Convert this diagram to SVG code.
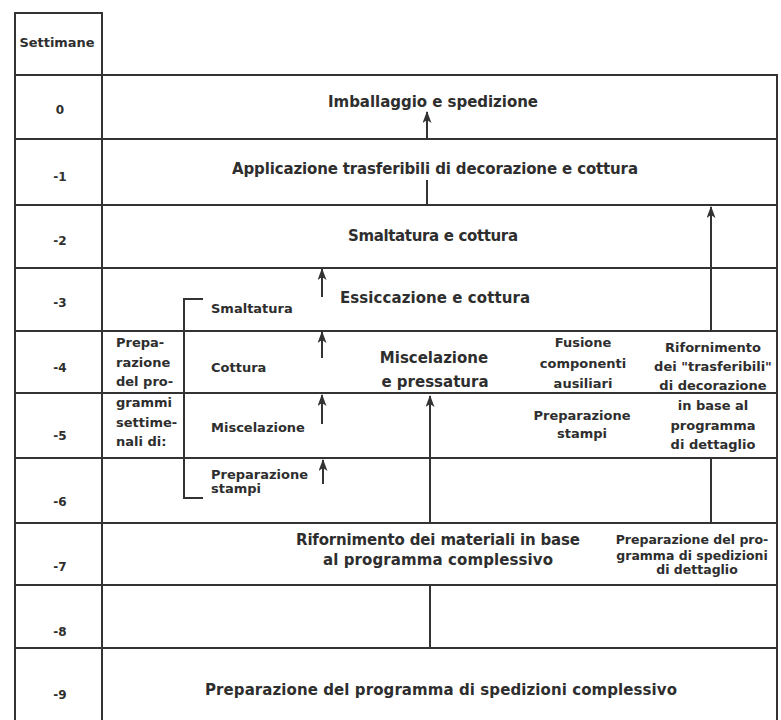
<svg xmlns="http://www.w3.org/2000/svg" width="781" height="720" viewBox="0 0 781 720">
<style>
  .grid line { stroke:#333; stroke-width:2; }
  text { font-family:"DejaVu Sans","Liberation Sans",sans-serif; font-weight:bold; fill:#2e2e2e; }
  .big { font-size:15px; }
  .sm { font-size:13px; }
  .xs { font-size:12.5px; }
  .num { font-size:12px; text-anchor:middle; }
  .c { text-anchor:middle; }
  .conn line { stroke:#333; stroke-width:2; fill:none; }
</style>
<defs>
  <marker id="ah" markerUnits="userSpaceOnUse" viewBox="0 0 12 9" markerWidth="12" markerHeight="9" refX="11" refY="4.5" orient="auto">
    <path d="M0,0 L12,4.5 L0,9 L3,4.5 z" fill="#333"/>
  </marker>
</defs>
<rect width="781" height="720" fill="#fff"/>

<g id="grid" class="grid">
  <line x1="15" y1="13" x2="102" y2="13"/>
  <line x1="15" y1="12" x2="15" y2="720"/>
  <line x1="102" y1="12" x2="102" y2="720"/>
  <line x1="777" y1="74" x2="777" y2="720"/>
  <line x1="15" y1="75" x2="778" y2="75"/>
  <line x1="15" y1="139" x2="778" y2="139"/>
  <line x1="15" y1="205" x2="778" y2="205"/>
  <line x1="15" y1="268" x2="778" y2="268"/>
  <line x1="15" y1="331" x2="778" y2="331"/>
  <line x1="15" y1="393" x2="778" y2="393"/>
  <line x1="15" y1="458" x2="778" y2="458"/>
  <line x1="15" y1="523" x2="778" y2="523"/>
  <line x1="15" y1="585" x2="778" y2="585"/>
  <line x1="15" y1="648" x2="778" y2="648"/>
</g>

<g id="weeks">
  <text x="57" y="47" font-size="12" text-anchor="middle" textLength="75" lengthAdjust="spacingAndGlyphs">Settimane</text>
  <text class="num" x="60" y="114">0</text>
  <text class="num" x="60" y="181">-1</text>
  <text class="num" x="60" y="245">-2</text>
  <text class="num" x="60" y="307">-3</text>
  <text class="num" x="60" y="372">-4</text>
  <text class="num" x="60" y="440">-5</text>
  <text class="num" x="60" y="506">-6</text>
  <text class="num" x="60" y="571">-7</text>
  <text class="num" x="60" y="636">-8</text>
  <text class="num" x="60" y="699">-9</text>
</g>

<g id="imballaggio"><text class="big c" x="433" y="107" textLength="210">Imballaggio e spedizione</text></g>
<g id="applicazione"><text class="big c" x="435" y="174" textLength="406">Applicazione trasferibili di decorazione e cottura</text></g>
<g id="smaltatura-cottura"><text class="big c" x="433" y="241" textLength="170">Smaltatura e cottura</text></g>
<g id="essiccazione"><text class="big" x="340" y="303" textLength="190">Essiccazione e cottura</text></g>

<g id="programmi-settimanali">
  <text class="sm" x="116" y="347">Prepa-</text>
  <text class="sm" x="116" y="367">razione</text>
  <text class="sm" x="116" y="386">del pro-</text>
  <text class="sm" x="116" y="407">grammi</text>
  <text class="sm" x="116" y="427">settime-</text>
  <text class="sm" x="116" y="446">nali di:</text>
</g>

<g id="bracket">
  <path d="M203,299 L184,299 L184,498 L203,498" fill="none" stroke="#333" stroke-width="2"/>
</g>

<g id="w-smaltatura"><text class="sm" x="211" y="313">Smaltatura</text></g>
<g id="w-cottura"><text class="sm" x="211" y="372">Cottura</text></g>
<g id="w-miscelazione"><text class="sm" x="211" y="432">Miscelazione</text></g>
<g id="w-stampi">
  <text class="sm" x="211" y="479">Preparazione</text>
  <text class="sm" x="211" y="493">stampi</text>
</g>

<g id="miscelazione-pressatura">
  <text class="big c" x="434" y="363">Miscelazione</text>
  <text class="big c" x="435" y="387">e pressatura</text>
</g>

<g id="fusione">
  <text class="sm c" x="583" y="347">Fusione</text>
  <text class="sm c" x="583" y="368">componenti</text>
  <text class="sm c" x="583" y="388">ausiliari</text>
</g>

<g id="preparazione-stampi">
  <text class="sm c" x="582" y="420">Preparazione</text>
  <text class="sm c" x="582" y="438">stampi</text>
</g>

<g id="rifornimento-trasferibili">
  <text class="sm c" x="713" y="352">Rifornimento</text>
  <text class="sm c" x="713" y="371">dei "trasferibili"</text>
  <text class="sm c" x="713" y="390">di decorazione</text>
  <text class="sm c" x="713" y="410">in base al</text>
  <text class="sm c" x="713" y="430">programma</text>
  <text class="sm c" x="713" y="449">di dettaglio</text>
</g>

<g id="rifornimento-materiali">
  <text class="big c" x="438" y="545" textLength="284">Rifornimento dei materiali in base</text>
  <text class="big c" x="438" y="565" textLength="230">al programma complessivo</text>
</g>

<g id="programma-dettaglio">
  <text class="xs c" x="692" y="544">Preparazione del pro-</text>
  <text class="xs c" x="692" y="560">gramma di spedizioni</text>
  <text class="xs c" x="697" y="574">di dettaglio</text>
</g>

<g id="programma-complessivo"><text class="big c" x="441" y="695" textLength="472">Preparazione del programma di spedizioni complessivo</text></g>

<g id="connectors" class="conn">
  <line x1="427" y1="139" x2="427" y2="112" marker-end="url(#ah)"/>
  <line x1="427" y1="205" x2="427" y2="180"/>
  <line x1="711" y1="331" x2="711" y2="207" marker-end="url(#ah)"/>
  <line x1="711" y1="458" x2="711" y2="523"/>
  <line x1="322" y1="297" x2="322" y2="269" marker-end="url(#ah)"/>
  <line x1="322" y1="358" x2="322" y2="332" marker-end="url(#ah)"/>
  <line x1="322" y1="424" x2="322" y2="395" marker-end="url(#ah)"/>
  <line x1="323" y1="484" x2="323" y2="460" marker-end="url(#ah)"/>
  <line x1="430" y1="523" x2="430" y2="396" marker-end="url(#ah)"/>
  <line x1="430" y1="585" x2="430" y2="648"/>
</g>
</svg>
